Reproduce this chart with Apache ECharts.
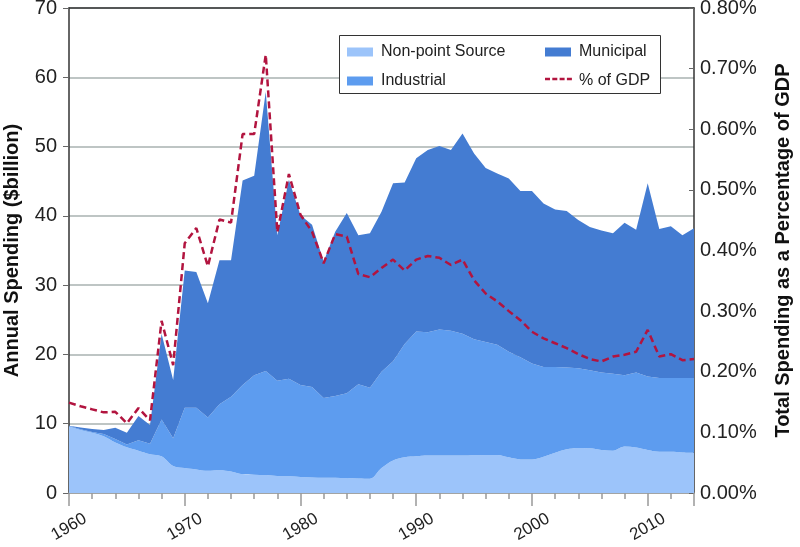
<!DOCTYPE html>
<html>
<head>
<meta charset="utf-8">
<script src="https://cdn.jsdelivr.net/npm/echarts@6/dist/echarts.min.js"></script>
<style>html,body{margin:0;padding:0;background:#fff;}#c{width:800px;height:547px;}</style>
</head>
<body>
<div id="c"></div>
<script>
const years = [1960,1961,1962,1963,1964,1965,1966,1967,1968,1969,
  1970,1971,1972,1973,1974,1975,1976,1977,1978,1979,
  1980,1981,1982,1983,1984,1985,1986,1987,1988,1989,
  1990,1991,1992,1993,1994,1995,1996,1997,1998,1999,
  2000,2001,2002,2003,2004,2005,2006,2007,2008,2009,
  2010,2011,2012,2013,2014];
const nonPoint = [9.65,9.1,8.7,8.2,7.3,6.6,6.1,5.6,5.3,3.9,
  3.6,3.4,3.2,3.3,3.1,2.7,2.65,2.6,2.45,2.4,
  2.3,2.25,2.2,2.2,2.15,2.1,2.07,3.6,4.7,5.15,
  5.3,5.4,5.4,5.4,5.4,5.45,5.5,5.5,5.15,4.85,
  4.85,5.25,5.8,6.3,6.5,6.45,6.2,6.1,6.7,6.55,
  6.2,5.95,5.95,5.85,5.8];
const industrial = [0.05,0.1,0.1,0.3,0.5,0.4,1.5,1.5,5.3,4.0,
  8.7,8.9,7.7,9.5,10.8,12.9,14.35,15.0,13.75,14.1,
  13.3,13.05,11.5,11.8,12.25,13.6,13.13,13.9,14.3,16.35,
  18.0,17.8,18.2,18.0,17.6,16.75,16.3,15.9,15.25,14.75,
  13.85,12.95,12.4,11.8,11.5,11.25,11.2,11.1,10.3,10.85,
  10.6,10.65,10.65,10.75,10.8];
const municipal = [0,0.25,0.45,0.6,1.6,1.7,3.5,2.7,12.4,8.4,
  19.8,19.6,16.5,20.8,19.7,29.5,28.8,40.3,21.0,28.7,
  24.5,23.4,19.7,23.7,26.0,21.5,22.3,23.1,25.7,23.3,
  25.0,26.3,26.5,26.1,28.9,26.8,25.1,24.7,25.0,24.0,
  24.9,23.6,22.7,22.6,21.4,20.7,20.5,20.3,22.0,20.6,
  27.9,21.5,21.9,20.6,21.6];
const pctGDP = [0.149,0.143,0.138,0.133,0.134,0.115,0.140,0.120,0.284,0.211,
  0.412,0.437,0.374,0.451,0.446,0.592,0.592,0.723,0.43,0.526,
  0.459,0.431,0.379,0.427,0.423,0.361,0.356,0.371,0.385,0.367,
  0.385,0.391,0.388,0.376,0.385,0.351,0.329,0.316,0.300,0.285,
  0.266,0.255,0.247,0.239,0.229,0.221,0.217,0.225,0.228,0.233,
  0.269,0.225,0.229,0.219,0.221];
const seriesNames = ['Non-point Source','Industrial','Municipal','% of GDP'];
const leftTicks = {min:0, max:70, step:10};
const rightTicks = {min:0, max:0.8, step:0.1};
const yearTicks = {min:1960, max:2014, step:10, minorSplit:5};

const FONT = '"Liberation Sans", Arial, sans-serif';
const GDP_COLOR = '#b2143f';
const chart = echarts.init(document.getElementById('c'), null, {renderer:'canvas'});
const areaSeries = (name, arr, color, smooth) => ({
  name, type:'line', stack:'spend', data: arr, symbol:'none', smooth: smooth,
  xAxisIndex:0, yAxisIndex:0,
  lineStyle:{width:0, color}, itemStyle:{color}, areaStyle:{color, opacity:1}, z:2
});
const legendText = {fontSize:16, color:'#222', fontFamily:FONT, padding:[0,0,0,3]};
chart.setOption({
  animation:false,
  textStyle:{fontFamily:FONT},
  grid:{left:69, right:106, top:8, bottom:54, containLabel:false, outerBoundsMode:'none'},
  graphic:[
    {type:'rect', shape:{x:339.5, y:35.5, width:321, height:58}, style:{fill:'#fff', stroke:'#333', lineWidth:1}, z:3},
    {type:'line', shape:{x1:545, y1:79, x2:572, y2:79}, style:{stroke:GDP_COLOR, lineWidth:2.5, lineDash:[5,2.3]}, z:6}
  ],
  legend:[
    {data:[{name:seriesNames[0], icon:'rect'}, {name:seriesNames[1], icon:'rect'}], orient:'vertical', left:342, top:39,
     itemWidth:26, itemHeight:9, itemGap:13, textStyle:legendText, z:5},
    {data:[{name:seriesNames[2], icon:'rect'}, {name:seriesNames[3], icon:'none'}], orient:'vertical', left:540, top:39,
     itemWidth:26, itemHeight:9, itemGap:13, textStyle:legendText, z:5}
  ],
  xAxis:[{
    type:'category', data: years, boundaryGap:false, show:false
  },{
    type:'value', position:'bottom', min:yearTicks.min, max:yearTicks.max, interval:yearTicks.step,
    axisLine:{show:true, lineStyle:{color:'#999', width:1.5}},
    axisTick:{show:true, length:13, lineStyle:{color:'#999', width:1.5}},
    minorTick:{show:true, splitNumber:yearTicks.minorSplit, length:6, lineStyle:{color:'#999', width:1.5}},
    splitLine:{show:false},
    axisLabel:{fontSize:17, color:'#222', rotate:30, align:'center', verticalAlign:'middle', margin:34,
      showMaxLabel:false, fontFamily:FONT, formatter: v => String(v)}
  },{
    type:'value', position:'top', min:yearTicks.min, max:yearTicks.max,
    axisLine:{show:true, lineStyle:{color:'#333', width:1.5}},
    axisTick:{show:false}, axisLabel:{show:false}, splitLine:{show:false}
  }],
  yAxis:[{
    type:'value', min:leftTicks.min, max:leftTicks.max, interval:leftTicks.step,
    name:'Annual Spending ($billion)', nameLocation:'middle', nameGap:47, nameRotate:90,
    nameTextStyle:{fontSize:20, fontWeight:'bold', color:'#111', fontFamily:FONT},
    axisLine:{show:true, lineStyle:{color:'#333', width:1.5}},
    axisTick:{show:true, inside:false, length:6, lineStyle:{color:'#666'}},
    axisLabel:{fontSize:20, color:'#222', margin:12, fontFamily:FONT},
    splitLine:{show:true, lineStyle:{color:'#a9b2b0', width:1.5}}
  },{
    type:'value', position:'right', min:rightTicks.min, max:rightTicks.max, interval:rightTicks.step,
    name:'Total Spending as a Percentage of GDP', nameLocation:'middle', nameGap:79, nameRotate:90,
    nameTextStyle:{fontSize:20, fontWeight:'bold', color:'#111', fontFamily:FONT},
    axisLine:{show:true, lineStyle:{color:'#333', width:1.5}},
    axisTick:{show:true, inside:true, length:5, lineStyle:{color:'#666'}},
    axisLabel:{fontSize:20, color:'#222', margin:6, fontFamily:FONT, formatter: v => v.toFixed(2)+'%'},
    splitLine:{show:false}
  }],
  series:[
    areaSeries(seriesNames[0], nonPoint, '#9cc4fa', 0.35),
    areaSeries(seriesNames[1], industrial, '#5d9cef', false),
    areaSeries(seriesNames[2], municipal, '#447cd2', false),
    {name:seriesNames[3], type:'line', xAxisIndex:0, yAxisIndex:1, data: pctGDP, symbol:'none',
     lineStyle:{color:GDP_COLOR, width:2.5, type:[7,4]}, itemStyle:{color:GDP_COLOR}, z:5}
  ]
});
</script>
</body>
</html>
